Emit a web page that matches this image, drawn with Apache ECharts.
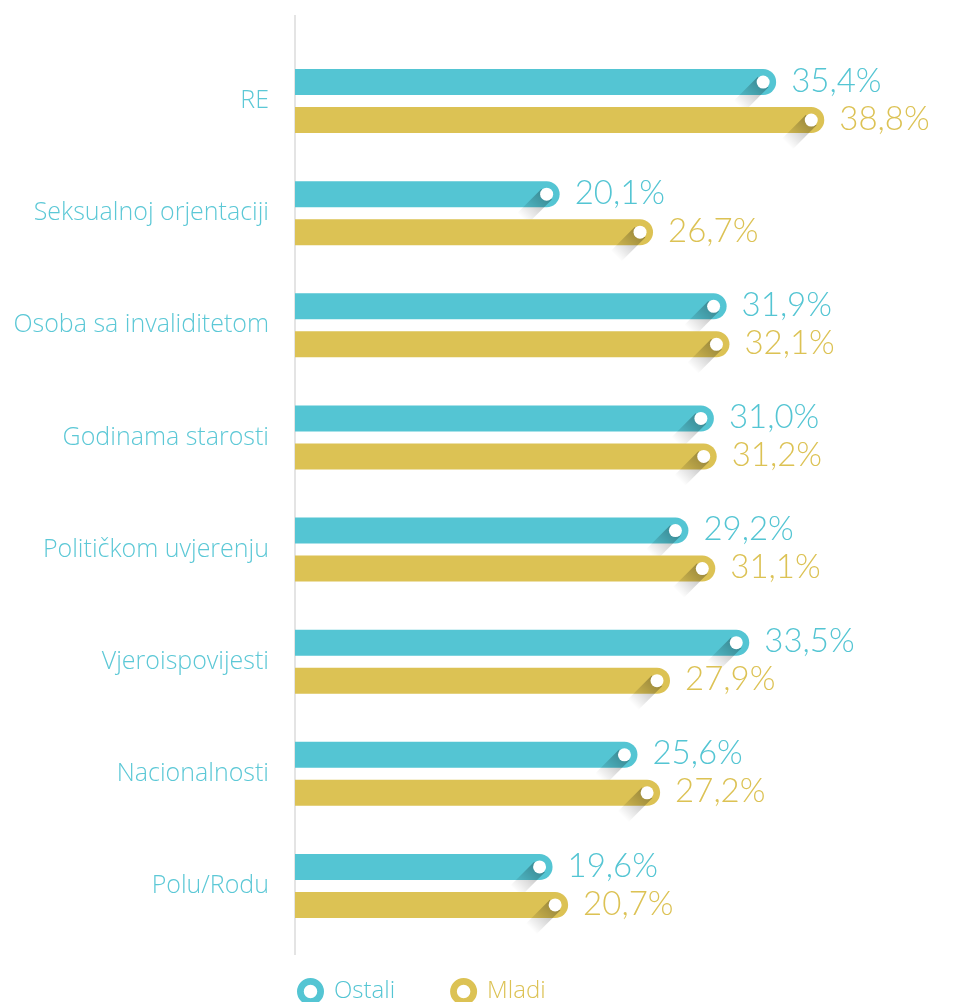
<!DOCTYPE html>
<html>
<head>
<meta charset="utf-8">
<script src="https://cdn.jsdelivr.net/npm/echarts@6/dist/echarts.min.js"></script>
<style>
  html, body { margin: 0; padding: 0; background: #ffffff; }
  #chart { width: 960px; height: 1002px; }
</style>
</head>
<body>
<div id="chart"></div>
<script>
// Categories, top to bottom
const categories = [
  'RE',
  'Seksualnoj orjentaciji',
  'Osoba sa invaliditetom',
  'Godinama starosti',
  'Političkom uvjerenju',
  'Vjeroispovijesti',
  'Nacionalnosti',
  'Polu/Rodu'
];

// Percentages per group
const ostali = [35.4, 20.1, 31.9, 31.0, 29.2, 33.5, 25.6, 19.6];
const mladi  = [38.8, 26.7, 32.1, 31.2, 31.1, 27.9, 27.2, 20.7];

const seriesNames = ['Ostali', 'Mladi'];

const TEAL = '#54c5d3';
const GOLD = '#dcc254';
const X_MIN = 1.4;
const X_MAX = 45;

const fmt = v => v.toFixed(1).replace('.', ',') + '%';

// Rounded bar with a white knob, a long diagonal shadow and the value label
function makeRenderItem(color, dy) {
  return function (params, api) {
    const v = api.value(0);
    const ci = api.value(1);
    const start = api.coord([X_MIN, ci]);
    const end = api.coord([v, ci]);
    const cy = end[1] + dy;
    const h = 26, r = 13;
    const x0 = start[0], x1 = end[0];
    const cx = x1 - r;
    const s = Math.SQRT1_2;
    const w = 7.5, L = 34;
    return {
      type: 'group',
      children: [
        {
          type: 'rect',
          shape: { x: x0, y: cy - h / 2, width: x1 - x0, height: h, r: [0, r, r, 0] },
          style: { fill: color }
        },
        {
          type: 'polygon',
          shape: {
            points: [
              [cx + w * s, cy + w * s],
              [cx - w * s, cy - w * s],
              [cx - w * s - L * s, cy - w * s + L * s],
              [cx + w * s - L * s, cy + w * s + L * s]
            ]
          },
          style: {
            fill: {
              type: 'linear', global: true,
              x: cx, y: cy, x2: cx - L * s, y2: cy + L * s,
              colorStops: [
                { offset: 0, color: 'rgba(0,0,0,0.30)' },
                { offset: 1, color: 'rgba(0,0,0,0)' }
              ]
            }
          }
        },
        {
          type: 'circle',
          shape: { cx: cx, cy: cy, r: 6.5 },
          style: { fill: '#ffffff' }
        },
        {
          type: 'text',
          style: {
            text: fmt(v),
            x: x1 + 15,
            y: cy - 1,
            verticalAlign: 'middle',
            align: 'left',
            fill: color,
            fontFamily: 'Lato',
            fontWeight: 300,
            fontSize: 33
          }
        }
      ]
    };
  };
}

const ringIcon = 'path://M13,0A13,13,0,1,1,13,26A13,13,0,1,1,13,0ZM13,6.5A6.5,6.5,0,1,0,13,19.5A6.5,6.5,0,1,0,13,6.5Z';

const chart = echarts.init(document.getElementById('chart'), null, { renderer: 'canvas' });

chart.setOption({
  backgroundColor: '#ffffff',
  animation: false,
  grid: { left: 295, right: 48, top: 45, bottom: 60 },
  xAxis: {
    type: 'value',
    min: X_MIN,
    max: X_MAX,
    show: false
  },
  yAxis: {
    type: 'category',
    inverse: true,
    data: categories,
    axisLine: { show: false },
    axisTick: { show: false },
    splitLine: { show: false },
    axisLabel: {
      margin: 26,
      color: '#5cc8d6',
      fontFamily: 'Open Sans',
      fontWeight: 300,
      fontSize: 25
    }
  },
  legend: {
    left: 292,
    top: 973,
    itemWidth: 27,
    itemHeight: 27,
    itemGap: 55,
    textStyle: { fontFamily: 'Open Sans', fontWeight: 300, fontSize: 24, padding: [0, 0, 0, 5] },
    data: [
      { name: seriesNames[0], icon: ringIcon, textStyle: { color: TEAL } },
      { name: seriesNames[1], icon: ringIcon, textStyle: { color: GOLD } }
    ]
  },
  graphic: [
    {
      type: 'rect',
      shape: { x: 294, y: 15, width: 2, height: 940 },
      style: { fill: '#e4e4e4' },
      z: 0
    }
  ],
  series: [
    {
      name: seriesNames[0],
      type: 'custom',
      itemStyle: { color: TEAL },
      renderItem: makeRenderItem(TEAL, -19),
      encode: { x: 0, y: 1 },
      data: ostali.map((v, i) => [v, i]),
      z: 2
    },
    {
      name: seriesNames[1],
      type: 'custom',
      itemStyle: { color: GOLD },
      renderItem: makeRenderItem(GOLD, 19),
      encode: { x: 0, y: 1 },
      data: mladi.map((v, i) => [v, i]),
      z: 2
    }
  ]
});
</script>
</body>
</html>
